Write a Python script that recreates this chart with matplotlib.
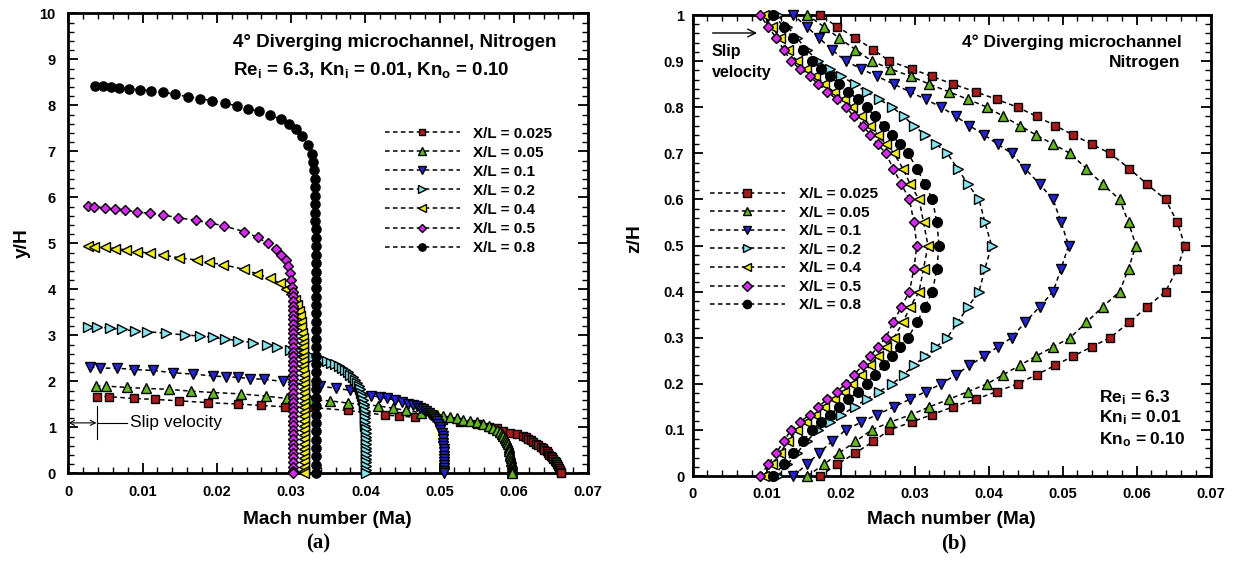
import matplotlib
matplotlib.use("Agg")
import matplotlib.pyplot as plt
from matplotlib.ticker import MultipleLocator

plt.rcParams['font.family'] = ['Liberation Sans', 'DejaVu Sans']
plt.rcParams['font.weight'] = 'bold'
plt.rcParams['mathtext.fontset'] = 'custom'
plt.rcParams['mathtext.rm'] = 'Liberation Sans:bold'
plt.rcParams['mathtext.it'] = 'Liberation Sans:bold'
plt.rcParams['mathtext.bf'] = 'Liberation Sans:bold'

labels = ['X/L = 0.025', 'X/L = 0.05', 'X/L = 0.1', 'X/L = 0.2',
          'X/L = 0.4', 'X/L = 0.5', 'X/L = 0.8']
markers = ['s', '^', 'v', '>', '<', 'D', 'o']
colors = ['#A61B1B', '#63B81F', '#2424D0', '#86E6F0', '#F0EC1A', '#D62BEF', '#000000']

# (a) Mach number vs y/H at each X/L, as (Ma, y/H) from the wall to the centreline
a_025 = [
    (0.0038, 1.67), (0.0055, 1.67), (0.0088, 1.63), (0.0117, 1.61), (0.0149, 1.58),
    (0.0188, 1.54), (0.0228, 1.51), (0.0259, 1.48), (0.0292, 1.45), (0.0323, 1.44),
    (0.0377, 1.37), (0.0426, 1.27), (0.0446, 1.25), (0.0467, 1.22), (0.0505, 1.16),
    (0.0527, 1.12), (0.0550, 1.07), (0.0566, 1.02), (0.0577, 0.98), (0.0586, 0.93),
    (0.0595, 0.89), (0.0604, 0.85), (0.0612, 0.82), (0.0616, 0.79), (0.0619, 0.76),
    (0.0623, 0.72), (0.0626, 0.69), (0.0630, 0.65), (0.0633, 0.62), (0.0636, 0.58),
    (0.0639, 0.55), (0.0641, 0.52), (0.0644, 0.48), (0.0646, 0.44), (0.0648, 0.41),
    (0.0650, 0.38), (0.0652, 0.35), (0.0653, 0.32), (0.0655, 0.28), (0.0657, 0.24),
    (0.0658, 0.20), (0.0660, 0.16), (0.0661, 0.12), (0.0662, 0.08), (0.0663, 0.04),
    (0.0664, 0.00),
]
a_05 = [
    (0.0037, 1.90), (0.0051, 1.90), (0.0079, 1.87), (0.0104, 1.85), (0.0135, 1.83),
    (0.0165, 1.79), (0.0195, 1.76), (0.0233, 1.73), (0.0266, 1.68), (0.0295, 1.63),
    (0.0325, 1.60), (0.0352, 1.58), (0.0377, 1.53), (0.0417, 1.47), (0.0437, 1.42),
    (0.0455, 1.37), (0.0475, 1.32), (0.0496, 1.27), (0.0505, 1.25), (0.0514, 1.22),
    (0.0523, 1.20), (0.0532, 1.17), (0.0541, 1.14), (0.0550, 1.11), (0.0559, 1.07),
    (0.0566, 1.03), (0.0572, 0.99), (0.0577, 0.95), (0.0581, 0.90), (0.0584, 0.86),
    (0.0586, 0.82), (0.0588, 0.77), (0.0590, 0.73), (0.0591, 0.68), (0.0592, 0.63),
    (0.0593, 0.58), (0.0594, 0.53), (0.0594, 0.48), (0.0595, 0.43), (0.0595, 0.38),
    (0.0596, 0.33), (0.0596, 0.28), (0.0597, 0.23), (0.0597, 0.18), (0.0597, 0.13),
    (0.0597, 0.08), (0.0597, 0.04), (0.0597, 0.00),
]
a_1 = [
    (0.0029, 2.31), (0.0043, 2.29), (0.0065, 2.29), (0.0088, 2.26), (0.0114, 2.24),
    (0.0141, 2.19), (0.0168, 2.16), (0.0195, 2.12), (0.0213, 2.10), (0.0229, 2.09),
    (0.0245, 2.06), (0.0263, 2.05), (0.0289, 2.00), (0.0339, 1.90), (0.0361, 1.85),
    (0.0379, 1.81), (0.0408, 1.69), (0.0420, 1.66), (0.0429, 1.63), (0.0440, 1.60),
    (0.0449, 1.56), (0.0458, 1.52), (0.0464, 1.49), (0.0469, 1.46), (0.0474, 1.43),
    (0.0478, 1.40), (0.0482, 1.36), (0.0486, 1.32), (0.0489, 1.28), (0.0491, 1.23),
    (0.0494, 1.18), (0.0496, 1.13), (0.0498, 1.07), (0.0500, 1.01), (0.0501, 0.95),
    (0.0503, 0.88), (0.0504, 0.81), (0.0504, 0.74), (0.0505, 0.67), (0.0505, 0.60),
    (0.0506, 0.53), (0.0506, 0.46), (0.0506, 0.39), (0.0506, 0.32), (0.0506, 0.25),
    (0.0506, 0.18), (0.0506, 0.11), (0.0506, 0.05), (0.0506, 0.00),
]
a_2 = [
    (0.0027, 3.19), (0.0038, 3.19), (0.0056, 3.16), (0.0072, 3.13), (0.0090, 3.10),
    (0.0106, 3.08), (0.0132, 3.05), (0.0157, 3.01), (0.0177, 2.99), (0.0195, 2.96),
    (0.0211, 2.92), (0.0229, 2.89), (0.0249, 2.84), (0.0267, 2.79), (0.0281, 2.74),
    (0.0298, 2.68), (0.0312, 2.63), (0.0323, 2.58), (0.0330, 2.54), (0.0337, 2.50),
    (0.0343, 2.47), (0.0349, 2.44), (0.0354, 2.41), (0.0359, 2.37), (0.0364, 2.33),
    (0.0368, 2.29), (0.0372, 2.25), (0.0376, 2.20), (0.0380, 2.15), (0.0383, 2.09),
    (0.0386, 2.03), (0.0389, 1.97), (0.0391, 1.90), (0.0393, 1.83), (0.0394, 1.76),
    (0.0396, 1.68), (0.0397, 1.60), (0.0398, 1.52), (0.0398, 1.44), (0.0399, 1.36),
    (0.0399, 1.28), (0.0400, 1.20), (0.0400, 1.12), (0.0400, 1.04), (0.0401, 0.96),
    (0.0401, 0.88), (0.0401, 0.80), (0.0401, 0.72), (0.0401, 0.64), (0.0401, 0.56),
    (0.0401, 0.48), (0.0401, 0.40), (0.0401, 0.32), (0.0401, 0.24), (0.0401, 0.16),
    (0.0401, 0.08), (0.0401, 0.00),
]
a_4 = [
    (0.0026, 4.95), (0.0034, 4.93), (0.0049, 4.92), (0.0063, 4.89), (0.0078, 4.86),
    (0.0093, 4.82), (0.0110, 4.79), (0.0127, 4.75), (0.0149, 4.69), (0.0173, 4.64),
    (0.0189, 4.59), (0.0208, 4.54), (0.0236, 4.44), (0.0254, 4.34), (0.0272, 4.24),
    (0.0285, 4.13), (0.0293, 4.02), (0.0300, 3.90), (0.0305, 3.78), (0.0308, 3.66),
    (0.0310, 3.54), (0.0312, 3.42), (0.0313, 3.30), (0.0314, 3.18), (0.0315, 3.06),
    (0.0316, 2.94), (0.0316, 2.84), (0.0316, 2.74), (0.0316, 2.64), (0.0316, 2.54),
    (0.0316, 2.44), (0.0316, 2.34), (0.0316, 2.24), (0.0317, 2.14), (0.0317, 2.04),
    (0.0317, 1.94), (0.0317, 1.84), (0.0317, 1.74), (0.0317, 1.64), (0.0317, 1.54),
    (0.0317, 1.44), (0.0317, 1.34), (0.0317, 1.24), (0.0317, 1.14), (0.0317, 1.04),
    (0.0317, 0.94), (0.0317, 0.84), (0.0317, 0.74), (0.0317, 0.64), (0.0317, 0.54),
    (0.0317, 0.44), (0.0317, 0.34), (0.0317, 0.24), (0.0317, 0.14), (0.0317, 0.05),
    (0.0317, 0.00),
]
a_5 = [
    (0.0027, 5.82), (0.0035, 5.80), (0.0049, 5.78), (0.0063, 5.75), (0.0076, 5.73),
    (0.0093, 5.68), (0.0110, 5.66), (0.0127, 5.62), (0.0148, 5.56), (0.0172, 5.50),
    (0.0191, 5.45), (0.0209, 5.38), (0.0237, 5.26), (0.0255, 5.13), (0.0269, 5.00),
    (0.0280, 4.88), (0.0287, 4.75), (0.0293, 4.63), (0.0296, 4.50), (0.0298, 4.35),
    (0.0300, 4.21), (0.0301, 4.06), (0.0302, 3.95), (0.0302, 3.85), (0.0302, 3.75),
    (0.0302, 3.65), (0.0302, 3.55), (0.0302, 3.45), (0.0302, 3.35), (0.0302, 3.25),
    (0.0302, 3.15), (0.0302, 3.05), (0.0303, 2.95), (0.0303, 2.85), (0.0303, 2.75),
    (0.0303, 2.65), (0.0303, 2.55), (0.0303, 2.45), (0.0303, 2.35), (0.0303, 2.25),
    (0.0303, 2.15), (0.0303, 2.05), (0.0303, 1.95), (0.0303, 1.85), (0.0303, 1.75),
    (0.0303, 1.65), (0.0303, 1.55), (0.0303, 1.45), (0.0303, 1.35), (0.0303, 1.25),
    (0.0303, 1.15), (0.0303, 1.05), (0.0303, 0.95), (0.0303, 0.85), (0.0303, 0.75),
    (0.0303, 0.65), (0.0303, 0.55), (0.0303, 0.45), (0.0303, 0.35), (0.0303, 0.25),
    (0.0303, 0.15), (0.0303, 0.05), (0.0303, 0.00),
]
a_8 = [
    (0.0036, 8.42), (0.0046, 8.42), (0.0058, 8.41), (0.0068, 8.39), (0.0082, 8.36),
    (0.0096, 8.34), (0.0111, 8.32), (0.0128, 8.29), (0.0144, 8.24), (0.0161, 8.19),
    (0.0177, 8.15), (0.0194, 8.10), (0.0211, 8.05), (0.0227, 7.99), (0.0242, 7.93),
    (0.0257, 7.87), (0.0272, 7.79), (0.0286, 7.70), (0.0297, 7.60), (0.0306, 7.48),
    (0.0315, 7.33), (0.0323, 7.14), (0.0328, 6.95), (0.0330, 6.77), (0.0331, 6.59),
    (0.0332, 6.41), (0.0332, 6.22), (0.0332, 6.04), (0.0332, 5.86), (0.0332, 5.67),
    (0.0332, 5.49), (0.0333, 5.31), (0.0333, 5.12), (0.0333, 4.94), (0.0333, 4.76),
    (0.0333, 4.58), (0.0333, 4.39), (0.0333, 4.21), (0.0333, 4.03), (0.0333, 3.84),
    (0.0333, 3.66), (0.0333, 3.48), (0.0333, 3.29), (0.0333, 3.11), (0.0333, 2.93),
    (0.0333, 2.75), (0.0333, 2.56), (0.0333, 2.38), (0.0333, 2.20), (0.0333, 2.01),
    (0.0333, 1.83), (0.0333, 1.65), (0.0333, 1.46), (0.0333, 1.28), (0.0333, 1.10),
    (0.0333, 0.92), (0.0333, 0.73), (0.0333, 0.55), (0.0333, 0.37), (0.0333, 0.18),
    (0.0333, 0.00),
]
profiles_a = [a_025, a_05, a_1, a_2, a_4, a_5, a_8]

# (b) Mach number across the depth z/H at each X/L
z_b = [0, 0.025, 0.05, 0.075, 0.1, 0.117, 0.133, 0.15, 0.167, 0.183, 0.2,
       0.22, 0.24, 0.26, 0.28, 0.3, 0.333, 0.367, 0.4, 0.45, 0.5,
       0.55, 0.6, 0.633, 0.667, 0.7, 0.72, 0.74, 0.76, 0.78, 0.8,
       0.817, 0.833, 0.85, 0.867, 0.883, 0.9, 0.925, 0.95, 0.975, 1.0]
b_025 = [0.0172, 0.0195, 0.0220, 0.0244, 0.0266, 0.0296, 0.0323, 0.0352, 0.0383, 0.0411, 0.0439,
         0.0465, 0.0490, 0.0514, 0.0539, 0.0564, 0.0590, 0.0614, 0.0639, 0.0655, 0.0665,
         0.0655, 0.0639, 0.0614, 0.0590, 0.0564, 0.0539, 0.0514, 0.0490, 0.0465, 0.0439,
         0.0411, 0.0383, 0.0352, 0.0323, 0.0296, 0.0266, 0.0244, 0.0220, 0.0195, 0.0172]
b_05 = [0.0155, 0.0177, 0.0198, 0.0220, 0.0242, 0.0267, 0.0295, 0.0320, 0.0347, 0.0372, 0.0398,
        0.0420, 0.0442, 0.0464, 0.0487, 0.0510, 0.0532, 0.0554, 0.0577, 0.0589, 0.0599,
        0.0589, 0.0577, 0.0554, 0.0532, 0.0510, 0.0487, 0.0464, 0.0442, 0.0420, 0.0398,
        0.0372, 0.0347, 0.0320, 0.0295, 0.0267, 0.0242, 0.0220, 0.0198, 0.0177, 0.0155]
b_1 = [0.0136, 0.0154, 0.0171, 0.0188, 0.0207, 0.0228, 0.0249, 0.0272, 0.0294, 0.0315, 0.0336,
       0.0356, 0.0374, 0.0394, 0.0412, 0.0431, 0.0449, 0.0469, 0.0487, 0.0498, 0.0508,
       0.0498, 0.0487, 0.0469, 0.0449, 0.0431, 0.0412, 0.0394, 0.0374, 0.0356, 0.0336,
       0.0315, 0.0294, 0.0272, 0.0249, 0.0228, 0.0207, 0.0188, 0.0171, 0.0154, 0.0136]
b_2 = [0.0115, 0.0128, 0.0141, 0.0154, 0.0169, 0.0185, 0.0201, 0.0219, 0.0235, 0.0252, 0.0270,
       0.0285, 0.0299, 0.0314, 0.0329, 0.0344, 0.0358, 0.0372, 0.0387, 0.0395, 0.0404,
       0.0395, 0.0387, 0.0372, 0.0358, 0.0344, 0.0329, 0.0314, 0.0299, 0.0285, 0.0270,
       0.0252, 0.0235, 0.0219, 0.0201, 0.0185, 0.0169, 0.0154, 0.0141, 0.0128, 0.0115]
b_4 = [0.0096, 0.0107, 0.0118, 0.0129, 0.0141, 0.0153, 0.0166, 0.0178, 0.0191, 0.0204, 0.0216,
       0.0228, 0.0240, 0.0250, 0.0261, 0.0272, 0.0284, 0.0294, 0.0306, 0.0312, 0.0318,
       0.0312, 0.0306, 0.0294, 0.0284, 0.0272, 0.0261, 0.0250, 0.0240, 0.0228, 0.0216,
       0.0204, 0.0191, 0.0178, 0.0166, 0.0153, 0.0141, 0.0129, 0.0118, 0.0107, 0.0096]
b_5 = [0.0091, 0.0102, 0.0113, 0.0123, 0.0133, 0.0145, 0.0158, 0.0170, 0.0182, 0.0195, 0.0207,
       0.0218, 0.0230, 0.0240, 0.0250, 0.0261, 0.0271, 0.0282, 0.0293, 0.0299, 0.0303,
       0.0299, 0.0293, 0.0282, 0.0271, 0.0261, 0.0250, 0.0240, 0.0230, 0.0218, 0.0207,
       0.0195, 0.0182, 0.0170, 0.0158, 0.0145, 0.0133, 0.0123, 0.0113, 0.0102, 0.0091]
b_8 = [0.0109, 0.0123, 0.0136, 0.0149, 0.0161, 0.0174, 0.0186, 0.0198, 0.0210, 0.0224, 0.0235,
       0.0246, 0.0259, 0.0269, 0.0280, 0.0291, 0.0303, 0.0314, 0.0324, 0.0330, 0.0333,
       0.0330, 0.0324, 0.0314, 0.0303, 0.0291, 0.0280, 0.0269, 0.0259, 0.0246, 0.0235,
       0.0224, 0.0210, 0.0198, 0.0186, 0.0174, 0.0161, 0.0149, 0.0136, 0.0123, 0.0109]
profiles_b = [b_025, b_05, b_1, b_2, b_4, b_5, b_8]


def style_axes(ax, ymax, ymajor, yminor, ypad):
    ax.set_xlim(0, 0.07)
    ax.set_ylim(0, ymax)
    ax.xaxis.set_major_locator(MultipleLocator(0.01))
    ax.xaxis.set_minor_locator(MultipleLocator(0.002))
    ax.yaxis.set_major_locator(MultipleLocator(ymajor))
    ax.yaxis.set_minor_locator(MultipleLocator(yminor))
    ax.tick_params(which='both', direction='in', top=True, right=True, labelsize=10.5)
    ax.tick_params(which='major', length=7, width=1.3)
    ax.tick_params(which='minor', length=4, width=1.0)
    ax.tick_params(axis='x', pad=8)
    ax.tick_params(axis='y', pad=ypad)
    ax.xaxis.set_major_formatter(plt.FuncFormatter(lambda v, p: '0' if v == 0 else f'{v:g}'))
    ax.yaxis.set_major_formatter(plt.FuncFormatter(lambda v, p: '0' if v == 0 else f'{v:g}'))
    for s in ax.spines.values():
        s.set_linewidth(2)
    for lab in ax.get_xticklabels() + ax.get_yticklabels():
        lab.set_fontweight('bold')


def draw_series(ax, x, y, i, ms):
    scale = {'s': 0.85, 'D': 0.8}.get(markers[i], 1.0)
    ax.plot(x, y, linestyle=(0, (3, 2.2)), color='black', lw=1.1,
            marker=markers[i], ms=ms * scale, mfc=colors[i], mec='black', mew=1.0,
            label=labels[i], clip_on=False, zorder=3)


fig = plt.figure(figsize=(12.36, 5.64), dpi=100)
ax1 = fig.add_axes([0.0553, 0.1605, 0.4205, 0.8156])
ax2 = fig.add_axes([0.5604, 0.1560, 0.4191, 0.8174])

# panel (a)
for i, prof in enumerate(profiles_a):
    ma = [p[0] for p in prof]
    yh = [p[1] for p in prof]
    draw_series(ax1, ma, yh, i, 6.6)
style_axes(ax1, 10, 1, 0.2, 9)

ax1.legend(loc='upper left', bbox_to_anchor=(0.609, 0.754), frameon=False,
           handlelength=4.9, handletextpad=0.9, labelspacing=0.33,
           borderpad=0, borderaxespad=0, markerscale=0.8,
           prop={'size': 11, 'weight': 'bold'})

ax1.text(0.0222, 9.36, '4\u00b0 Diverging microchannel, Nitrogen', fontsize=13.5,
         fontweight='bold', va='center', ha='left')
ax1.text(0.0222, 8.77, r'Re$_{i}$ = 6.3, Kn$_{i}$ = 0.01, Kn$_{o}$ = 0.10', fontsize=13.5,
         fontweight='bold', va='center', ha='left')

# slip velocity marker at the wall
ax1.annotate('', xy=(0.0, 1.10), xytext=(0.0038, 1.10),
             arrowprops=dict(arrowstyle='<->', lw=0.8, color='black',
                             shrinkA=0, shrinkB=0, mutation_scale=9))
ax1.plot([0.0038, 0.0079], [1.10, 1.10], color='black', lw=0.8)
ax1.plot([0.0038, 0.0038], [0.75, 1.47], color='black', lw=0.8)
ax1.text(0.0083, 1.10, 'Slip velocity', fontsize=12.5, fontweight='normal',
         va='center', ha='left')

ax1.text(0.498, -0.100, 'Mach number (Ma)', transform=ax1.transAxes, fontsize=13.8,
         fontweight='bold', ha='center', va='center')
ax1.text(-0.089, 0.501, 'y/H', transform=ax1.transAxes, fontsize=13.8,
         fontweight='bold', ha='center', va='center', rotation=90)
ax1.text(0.48, -0.153, '(a)', transform=ax1.transAxes, fontsize=15,
         fontweight='bold', ha='center', va='center', family='Liberation Serif')

# panel (b)
for i, ma in enumerate(profiles_b):
    draw_series(ax2, ma, z_b, i, 7)
style_axes(ax2, 1, 0.1, 0.02, 6)

ax2.legend(loc='upper left', bbox_to_anchor=(0.0334, 0.627), frameon=False,
           handlelength=4.9, handletextpad=0.9, labelspacing=0.3,
           borderpad=0, borderaxespad=0, markerscale=0.85,
           prop={'size': 11, 'weight': 'bold'})

ax2.text(0.0661, 0.941, '4\u00b0 Diverging microchannel', fontsize=12.5,
         fontweight='bold', va='center', ha='right')
ax2.text(0.0659, 0.898, 'Nitrogen', fontsize=12.5, fontweight='bold',
         va='center', ha='right')
ax2.text(0.0549, 0.169, r'Re$_{i}$ = 6.3', fontsize=12.5, fontweight='bold',
         va='center', ha='left')
ax2.text(0.0549, 0.126, r'Kn$_{i}$ = 0.01', fontsize=12.5, fontweight='bold',
         va='center', ha='left')
ax2.text(0.0549, 0.078, r'Kn$_{o}$ = 0.10', fontsize=12.5, fontweight='bold',
         va='center', ha='left')

ax2.annotate('', xy=(0.0087, 0.961), xytext=(0.0027, 0.961),
             arrowprops=dict(arrowstyle='->', lw=1.0, color='black',
                             shrinkA=0, shrinkB=0, mutation_scale=14))
ax2.text(0.0026, 0.92, 'Slip', fontsize=11.5, fontweight='bold', va='center', ha='left')
ax2.text(0.0026, 0.876, 'velocity', fontsize=11.5, fontweight='bold', va='center', ha='left')

ax2.text(0.4986, -0.0954, 'Mach number (Ma)', transform=ax2.transAxes, fontsize=13.8,
         fontweight='bold', ha='center', va='center')
ax2.text(-0.111, 0.516, 'z/H', transform=ax2.transAxes, fontsize=13.8,
         fontweight='bold', ha='center', va='center', rotation=90)
ax2.text(0.505, -0.147, '(b)', transform=ax2.transAxes, fontsize=15,
         fontweight='bold', ha='center', va='center', family='Liberation Serif')

fig.savefig('out.png', dpi=100)
